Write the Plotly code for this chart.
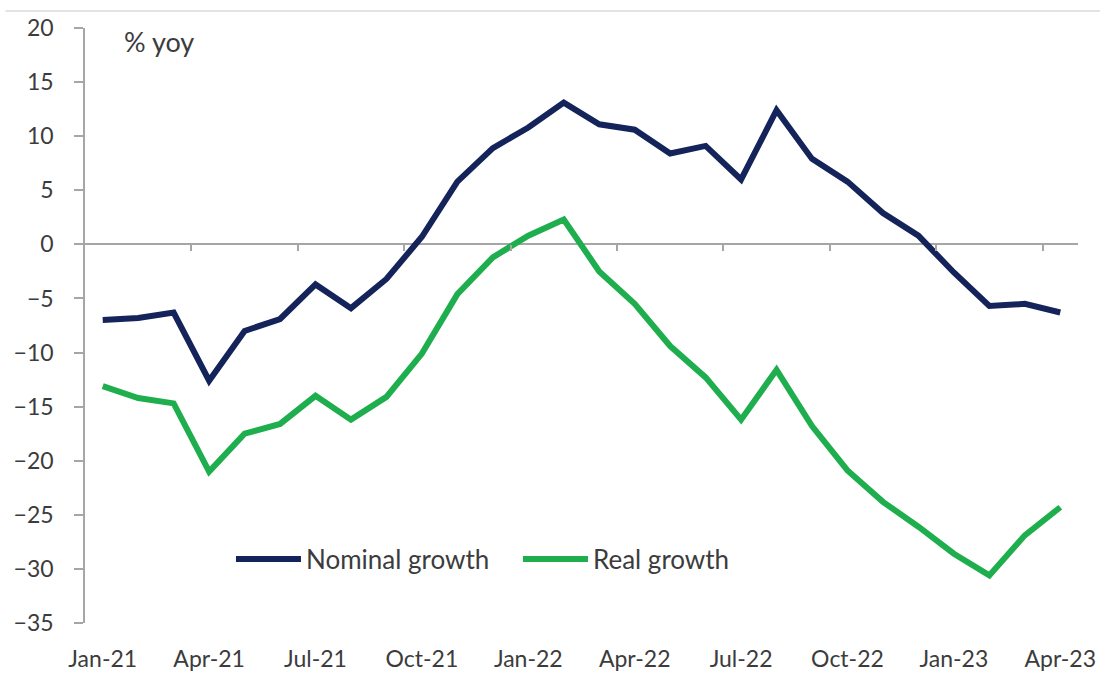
import plotly.graph_objects as go

months = ["Jan-21","Feb-21","Mar-21","Apr-21","May-21","Jun-21","Jul-21","Aug-21","Sep-21","Oct-21","Nov-21","Dec-21",
          "Jan-22","Feb-22","Mar-22","Apr-22","May-22","Jun-22","Jul-22","Aug-22","Sep-22","Oct-22","Nov-22","Dec-22",
          "Jan-23","Feb-23","Mar-23","Apr-23"]
nominal = [-7.0, -6.8, -6.3, -12.6, -8.0, -6.9, -3.7, -5.9, -3.2, 0.7, 5.8, 8.9,
           10.8, 13.1, 11.1, 10.6, 8.4, 9.1, 6.0, 12.4, 7.9, 5.8, 2.9, 0.8,
           -2.6, -5.7, -5.5, -6.3]
real = [-13.1, -14.2, -14.7, -21.0, -17.5, -16.6, -14.0, -16.2, -14.1, -10.1, -4.6, -1.2,
        0.8, 2.3, -2.5, -5.5, -9.4, -12.3, -16.2, -11.6, -16.8, -20.9, -23.8, -26.1,
        -28.6, -30.6, -26.9, -24.3]
tick_labels = ["Jan-21","Apr-21","Jul-21","Oct-21","Jan-22","Apr-22","Jul-22","Oct-22","Jan-23","Apr-23"]

idx = list(range(len(months)))
label_pos = [months.index(m) for m in tick_labels]
boundary_pos = [i + 2.5 for i in range(0, len(months) - 3, 3)]

NAVY = "#14245a"
GREEN = "#1fae4e"
GRAY = "#a6a6a6"
TXT = "#3c3c3c"
FONT = "Lato"

fig = go.Figure()
fig.add_trace(go.Scatter(x=idx, y=nominal, mode="lines", name="Nominal growth",
                         line=dict(color=NAVY, width=6)))
fig.add_trace(go.Scatter(x=idx, y=real, mode="lines", name="Real growth",
                         line=dict(color=GREEN, width=6)))

fig.update_layout(
    width=1100, height=673,
    margin=dict(l=85, r=22, t=28, b=50),
    paper_bgcolor="white", plot_bgcolor="white",
    font=dict(family=FONT, size=24, color=TXT),
    showlegend=True,
    legend=dict(orientation="h", x=0.147, xanchor="left", y=0.1076, yanchor="middle",
                itemwidth=65, entrywidth=207, entrywidthmode="pixels",
                font=dict(family=FONT, size=26, color=TXT), bgcolor="rgba(0,0,0,0)"),
    xaxis=dict(range=[-0.5, len(months) - 0.5], tickvals=label_pos, ticktext=tick_labels,
               showline=False, showgrid=False, zeroline=False, ticks="", automargin=False,
               ticklabelstandoff=20, tickfont=dict(family=FONT, size=23, color=TXT)),
    xaxis2=dict(range=[-0.5, len(months) - 0.5], overlaying="x", anchor="free",
                position=35 / 55, side="bottom", tickvals=boundary_pos, automargin=False,
                ticks="outside", ticklen=6, tickwidth=1.5, tickcolor=GRAY,
                showticklabels=False, showline=False, showgrid=False, zeroline=False),
    yaxis=dict(range=[-35, 20], dtick=5, tick0=0, showgrid=False, automargin=False,
               showline=True, linecolor=GRAY, linewidth=1.5,
               ticks="outside", ticklen=9, tickwidth=1.5, tickcolor=GRAY,
               zeroline=True, zerolinecolor=GRAY, zerolinewidth=1.5,
               ticklabelstandoff=16, tickfont=dict(family=FONT, size=23, color=TXT)),
    annotations=[dict(text="% yoy", xref="paper", yref="paper", x=0.037, y=0.978,
                      xanchor="left", yanchor="middle", showarrow=False,
                      font=dict(family=FONT, size=27, color=TXT))],
    shapes=[dict(type="line", xref="paper", yref="paper", x0=-0.08, x1=1.03,
                 y0=1.0286, y1=1.0286, line=dict(color="#e3e3e3", width=2))],
)
fig.add_trace(go.Scatter(x=idx, y=nominal, xaxis="x2", mode="lines", showlegend=False,
                         hoverinfo="skip", line=dict(color="rgba(0,0,0,0)", width=0)))

fig.write_html("out.html")
